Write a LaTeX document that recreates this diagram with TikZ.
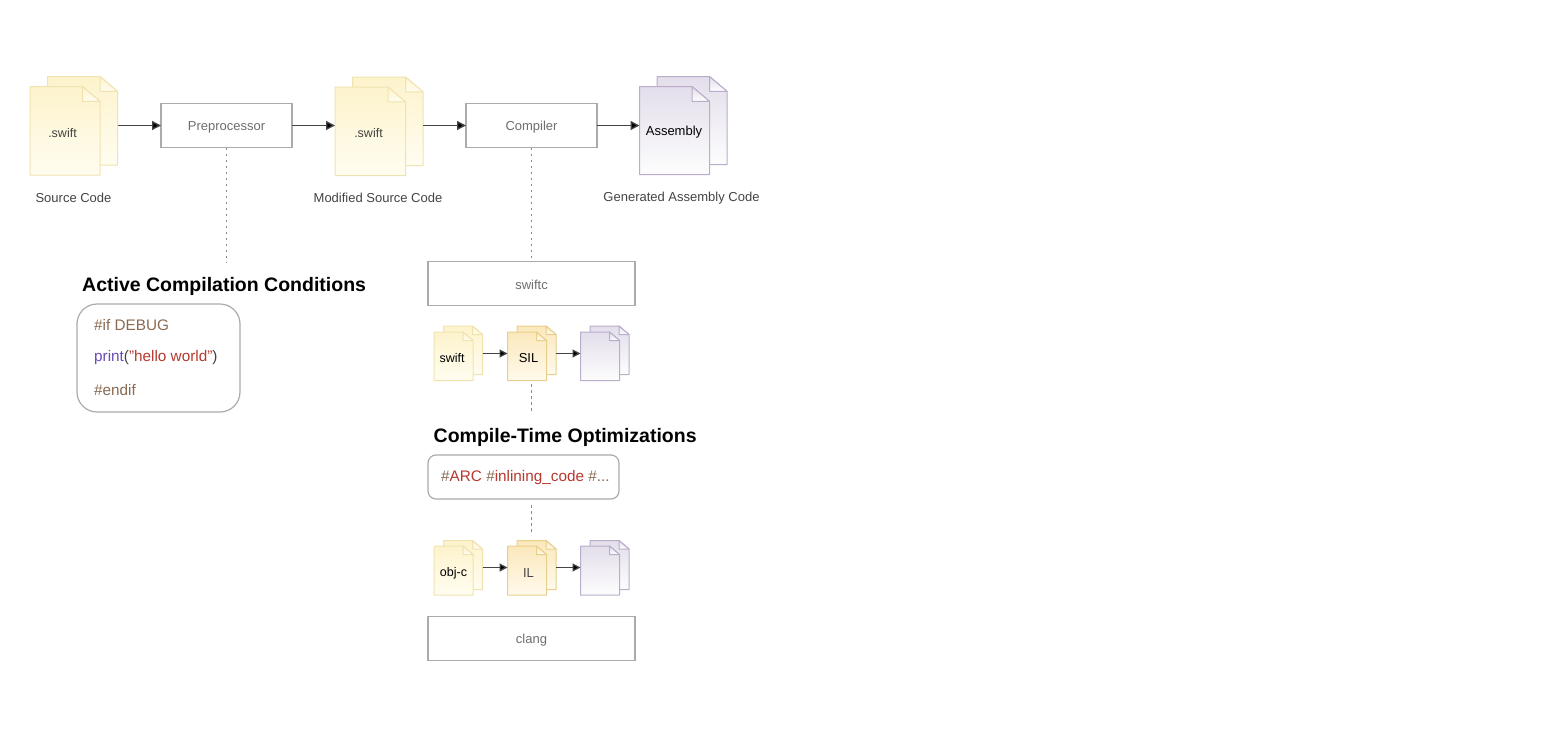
\documentclass[tikz,border=0pt]{standalone}
\usepackage{fontspec}
\setmainfont{Liberation Sans}
\usetikzlibrary{arrows.meta}
\definecolor{ylwline}{HTML}{F1E3B0}
\definecolor{ylwtop}{HTML}{FDF3CC}
\definecolor{ylwbot}{HTML}{FFFDF1}
\definecolor{ambline}{HTML}{E9CF8C}
\definecolor{ambtop}{HTML}{FBE8BC}
\definecolor{ambbot}{HTML}{FFFAEC}
\definecolor{purline}{HTML}{B9ADCB}
\definecolor{purtop}{HTML}{E3DEEB}
\definecolor{purbot}{HTML}{FDFDFD}
\definecolor{boxline}{HTML}{ABABAB}
\definecolor{darkgrey}{HTML}{444444}
\definecolor{midgrey}{HTML}{6E6E6E}
\definecolor{dotgrey}{HTML}{8A8A8A}
\definecolor{hashbrown}{HTML}{8A6A52}
\definecolor{kwred}{HTML}{B5392E}
\definecolor{kwpurple}{HTML}{6A4BB5}
\tikzset{
  ylwdoc/.style={draw=ylwline,top color=ylwtop,bottom color=ylwbot},
  ambdoc/.style={draw=ambline,top color=ambtop,bottom color=ambbot},
  purdoc/.style={draw=purline,top color=purtop,bottom color=purbot},
  anchorbox/.style={inner sep=0pt,outer sep=0pt,draw=none},
  procbox/.style={draw=boxline,line width=1.2pt,fill=white,inner sep=0pt,outer sep=0pt},
  proctext/.style={text=midgrey,font=\fontsize{13}{15}\selectfont},
  roundbox/.style={draw=boxline,line width=1.2pt,fill=white,inner sep=0pt,outer sep=0pt},
  flow/.style={draw=darkgrey,line width=1.3pt,-{Triangle[length=9pt,width=9pt,fill=black]}},
  minflow/.style={draw=darkgrey,line width=1.2pt,-{Triangle[length=8pt,width=8pt,fill=black]}},
  dots/.style={draw=dotgrey,line width=1.3pt,dash pattern=on 2.5pt off 3.5pt},
  caption/.style={text=darkgrey,font=\fontsize{13}{15}\selectfont},
  title/.style={text=black,font=\fontsize{19.5}{23}\selectfont\bfseries},
  doclabel/.style={text=darkgrey,font=\fontsize{12.5}{15}\selectfont},
  codeline/.style={anchor=west,font=\fontsize{15.3}{18}\selectfont},
}
% one page: #1 x, #2 y, #3 w, #4 h, #5 fold, #6 style
\newcommand{\onepage}[6]{%
  \path[#6,line width=1pt,line join=round] (#1,#2) -- ({#1+#3-#5},#2) -- ({#1+#3},{#2+0.85*#5}) -- ({#1+#3},{#2+#4}) -- (#1,{#2+#4}) -- cycle;
  \path[#6,line width=1pt,line join=round] ({#1+#3-#5},#2) -- ({#1+#3-#5},{#2+0.85*#5}) -- ({#1+#3},{#2+0.85*#5}) -- cycle;
}
% pair of pages: #1 name, #2 x, #3 y, #4 w, #5 h, #6 back dx, #7 back dy, #8 fold, #9 style
\newcommand{\docpair}[9]{%
  \onepage{#2+#6}{#3-#7}{#4}{#5}{#8}{#9}
  \onepage{#2}{#3}{#4}{#5}{#8}{#9}
  \node[anchorbox,minimum width=#4pt,minimum height=#5pt] (#1) at ({#2+#4/2},{#3+#5/2}) {};
  \node[anchorbox,minimum width=#4pt,minimum height=#5pt] (#1-b) at ({#2+#6+#4/2},{#3-#7+#5/2}) {};
}
\begin{document}
\begin{tikzpicture}[x=1pt,y=-1pt]
\useasboundingbox (0,0) rectangle (1560,734);
\fill[white] (0,0) rectangle (1560,734);

% top row
\docpair{srcdoc}{30}{86.5}{70}{88.5}{17.5}{10}{17.5}{ylwdoc}
\node[doclabel] at (62.5,133) {.swift};
\node[procbox,minimum width=131pt,minimum height=44pt] (pre) at (226.5,125.5) {};
\node[proctext] at (226.5,127) {Preprocessor};
\docpair{moddoc}{335}{87}{70.5}{88.5}{17.5}{10}{17.5}{ylwdoc}
\node[doclabel] at (368.5,133) {.swift};
\node[procbox,minimum width=131pt,minimum height=44pt] (comp) at (531.5,125.5) {};
\node[proctext] at (531.5,127) {Compiler};
\docpair{asmdoc}{639.5}{86.5}{70}{88}{17.5}{10}{17.5}{purdoc}
\node[text=black,font=\fontsize{13}{15}\selectfont] at (674,132.5) {Assembly};

\node[caption] at (73.5,198) {Source Code};
\node[caption] at (378,198) {Modified Source Code};
\node[caption] at (681.5,198) {Generated Assembly Code};

\draw[flow] (srcdoc-b.east |- pre.west) -- (pre.west);
\draw[flow] (pre.east) -- (pre.east -| moddoc.west);
\draw[flow] (moddoc-b.east |- comp.west) -- (comp.west);
\draw[flow] (comp.east) -- (comp.east -| asmdoc.west);

% left branch
\coordinate (preend) at (226.5,262);
\draw[dots] (pre.south) -- (preend);
\node[title,anchor=west,inner sep=0pt] (acc) at (82,286) {Active Compilation Conditions};
\node[roundbox,minimum width=163pt,minimum height=108pt,rounded corners=20pt] (cond) at (158.5,358) {};
\node[codeline,inner sep=0pt,text=hashbrown] (c1) at (94,325) {\#if DEBUG};
\node[codeline,inner sep=0pt] (c2) at (94,358) {\textcolor{kwpurple}{print}\textcolor{darkgrey}{(}\textcolor{kwred}{"hello world"}\textcolor{darkgrey}{)}};
\node[codeline,inner sep=0pt,text=hashbrown] (c3) at (94,390) {\#endif};

% right branch
\node[procbox,minimum width=207pt,minimum height=44pt] (swiftc) at (531.5,283.5) {};
\node[proctext] at (531.5,285) {swiftc};
\draw[dots] (comp.south) -- (swiftc.north);

\coordinate (rowa) at (0,353.5);
\docpair{sa}{434}{332}{39}{48.5}{9.5}{6}{10}{ylwdoc}
\node[text=black,font=\fontsize{12.5}{15}\selectfont] at (452,358.5) {swift};
\docpair{sb}{507.5}{332}{39}{48.5}{9.5}{6}{10}{ambdoc}
\node[text=black,font=\fontsize{13}{15}\selectfont] at (528.5,358.5) {SIL};
\docpair{sc}{580.5}{332}{39}{48.5}{9.5}{6}{10}{purdoc}
\draw[minflow] (sa-b.east |- rowa) -- (sb.west |- rowa);
\draw[minflow] (sb-b.east |- rowa) -- (sc.west |- rowa);

\coordinate (da1) at (531.5,384);
\coordinate (da2) at (531.5,414);
\draw[dots] (da1) -- (da2);
\node[title,anchor=west,inner sep=0pt] (cto) at (433.5,437.5) {Compile-Time Optimizations};
\node[roundbox,minimum width=191pt,minimum height=44pt,rounded corners=8pt] (opt) at (523.5,477) {};
\node[codeline,inner sep=0pt] (optt) at (441,477.5) {\textcolor{hashbrown}{\#}\textcolor{kwred}{ARC} \textcolor{hashbrown}{\#}\textcolor{kwred}{inlining\_code} \textcolor{hashbrown}{\#...}};

\coordinate (db1) at (531.5,505);
\coordinate (db2) at (531.5,535);
\draw[dots] (db1) -- (db2);

\coordinate (rowb) at (0,567.5);
\docpair{oa}{434}{546}{39}{49}{9.5}{5.5}{10}{ylwdoc}
\node[text=black,font=\fontsize{12.5}{15}\selectfont] at (453.5,573) {obj-c};
\docpair{ob}{507.5}{546}{39}{49}{9.5}{5.5}{10}{ambdoc}
\node[text=darkgrey,font=\fontsize{13}{15}\selectfont] at (528.5,573) {IL};
\docpair{oc}{580.5}{546}{39}{49}{9.5}{5.5}{10}{purdoc}
\draw[minflow] (oa-b.east |- rowb) -- (ob.west |- rowb);
\draw[minflow] (ob-b.east |- rowb) -- (oc.west |- rowb);

\node[procbox,minimum width=207pt,minimum height=44pt] (clang) at (531.5,638.5) {};
\node[proctext] at (531.5,640) {clang};
\end{tikzpicture}
\end{document}
